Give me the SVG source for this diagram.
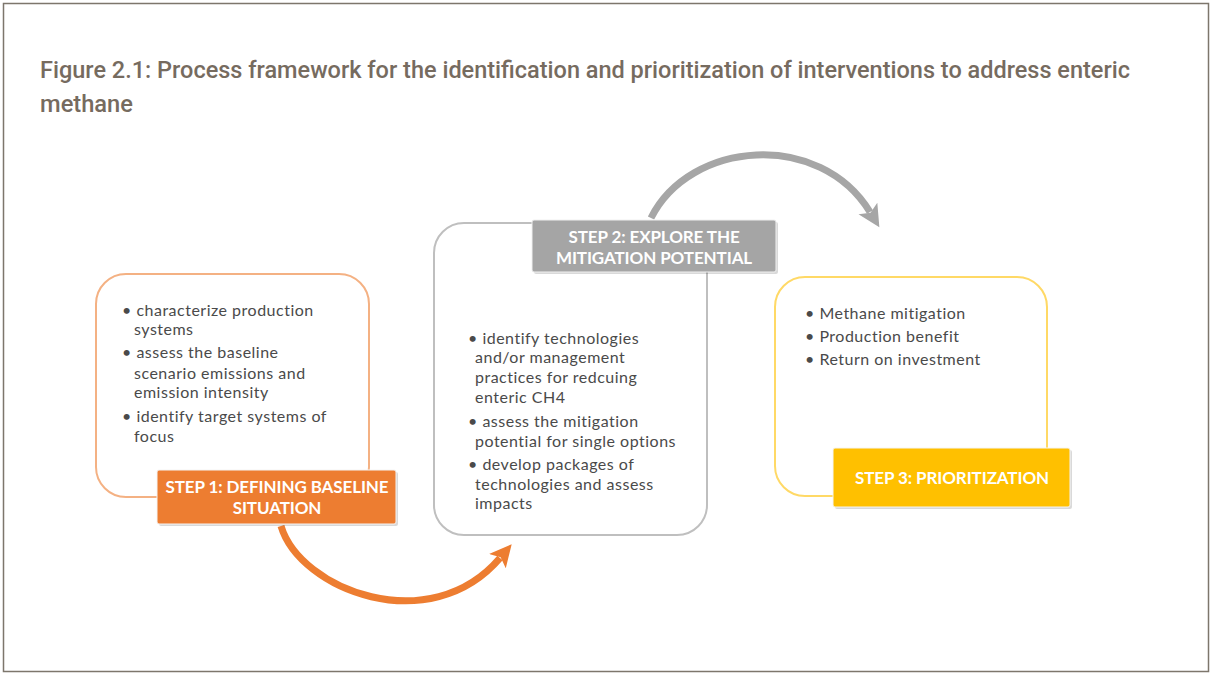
<svg xmlns="http://www.w3.org/2000/svg" width="1212" height="675" viewBox="0 0 1212 675">
<style>
.title{font-family:Roboto,"Liberation Sans",sans-serif;font-weight:500;font-size:23px;fill:#766b5f}
.body{font-family:Lato,"Liberation Sans",sans-serif;font-size:16px;fill:#4a4a4a;letter-spacing:0.5px}
.lbl{font-family:Lato,"Liberation Sans",sans-serif;font-weight:bold;font-size:17px;fill:#ffffff;text-anchor:middle;letter-spacing:-0.1px}
.shadow{fill:#000;opacity:0.15}
</style>
<defs>
<marker id="ho" markerUnits="userSpaceOnUse" markerWidth="26" markerHeight="26" refX="4" refY="13" orient="auto" viewBox="0 0 26 26">
<path d="M0 2 L22 13 L0 24 L5 13 Z" fill="#ed7d31"/>
</marker>
<marker id="hg" markerUnits="userSpaceOnUse" markerWidth="26" markerHeight="26" refX="4" refY="13" orient="auto" viewBox="0 0 26 26">
<path d="M0 2 L22 13 L0 24 L5 13 Z" fill="#a6a6a6"/>
</marker>
</defs>
<rect x="3.5" y="3.5" width="1205" height="668" fill="#ffffff" stroke="#7d766c" stroke-width="1.5"/>
<text class="title" x="40" y="78" textLength="1090" lengthAdjust="spacingAndGlyphs">Figure 2.1: Process framework for the identification and prioritization of interventions to address enteric</text>
<text class="title" x="40" y="112" textLength="93" lengthAdjust="spacingAndGlyphs">methane</text>

<g id="connectors">
<path d="M281 526 C300 590, 430 640, 500 558" fill="none" stroke="#ed7d31" stroke-width="7" marker-end="url(#ho)"/>
<path d="M651 218 C690 140, 820 130, 870 212" fill="none" stroke="#a6a6a6" stroke-width="7" marker-end="url(#hg)"/>
</g>

<g id="step1">
<rect x="96" y="274" width="273" height="223" rx="30" fill="#fff" stroke="#f4b183" stroke-width="2"/>
<text class="body" x="122" y="316">• characterize production</text>
<text class="body" x="134" y="335">systems</text>
<text class="body" x="122" y="358">• assess the baseline</text>
<text class="body" x="134" y="379">scenario emissions and</text>
<text class="body" x="134" y="398">emission intensity</text>
<text class="body" x="122" y="422">• identify target systems of</text>
<text class="body" x="134" y="442">focus</text>
<rect class="shadow" x="159" y="472" width="239" height="54" rx="2"/>
<rect x="157" y="470" width="239" height="54" rx="2" fill="#ed7d31" stroke="#f5f5f5" stroke-width="1"/>
<text class="lbl" x="277" y="493">STEP 1: DEFINING BASELINE</text>
<text class="lbl" x="277" y="514">SITUATION</text>
</g>

<g id="step2">
<rect x="434" y="223" width="273" height="312" rx="30" fill="#fff" stroke="#bfbfbf" stroke-width="2"/>
<text class="body" x="468" y="344">• identify technologies</text>
<text class="body" x="475" y="363">and/or management</text>
<text class="body" x="475" y="383">practices for redcuing</text>
<text class="body" x="475" y="403">enteric CH4</text>
<text class="body" x="468" y="427">• assess the mitigation</text>
<text class="body" x="475" y="447">potential for single options</text>
<text class="body" x="468" y="470">• develop packages of</text>
<text class="body" x="475" y="490">technologies and assess</text>
<text class="body" x="475" y="509">impacts</text>
<rect class="shadow" x="534" y="222" width="244" height="52" rx="2"/>
<rect x="532" y="220" width="244" height="52" rx="2" fill="#a5a5a5" stroke="#f0f0f0" stroke-width="1"/>
<text class="lbl" x="654" y="243">STEP 2: EXPLORE THE</text>
<text class="lbl" x="654" y="264">MITIGATION POTENTIAL</text>
</g>

<g id="step3">
<rect x="775" y="277" width="272" height="219" rx="30" fill="#fff" stroke="#ffd966" stroke-width="2"/>
<text class="body" x="805" y="319">• Methane mitigation</text>
<text class="body" x="805" y="342">• Production benefit</text>
<text class="body" x="805" y="365">• Return on investment</text>
<rect class="shadow" x="835" y="450" width="237" height="59" rx="2"/>
<rect x="833" y="448" width="237" height="59" rx="2" fill="#ffc000" stroke="#f5f5f5" stroke-width="1"/>
<text class="lbl" x="952" y="484">STEP 3: PRIORITIZATION</text>
</g>
</svg>
